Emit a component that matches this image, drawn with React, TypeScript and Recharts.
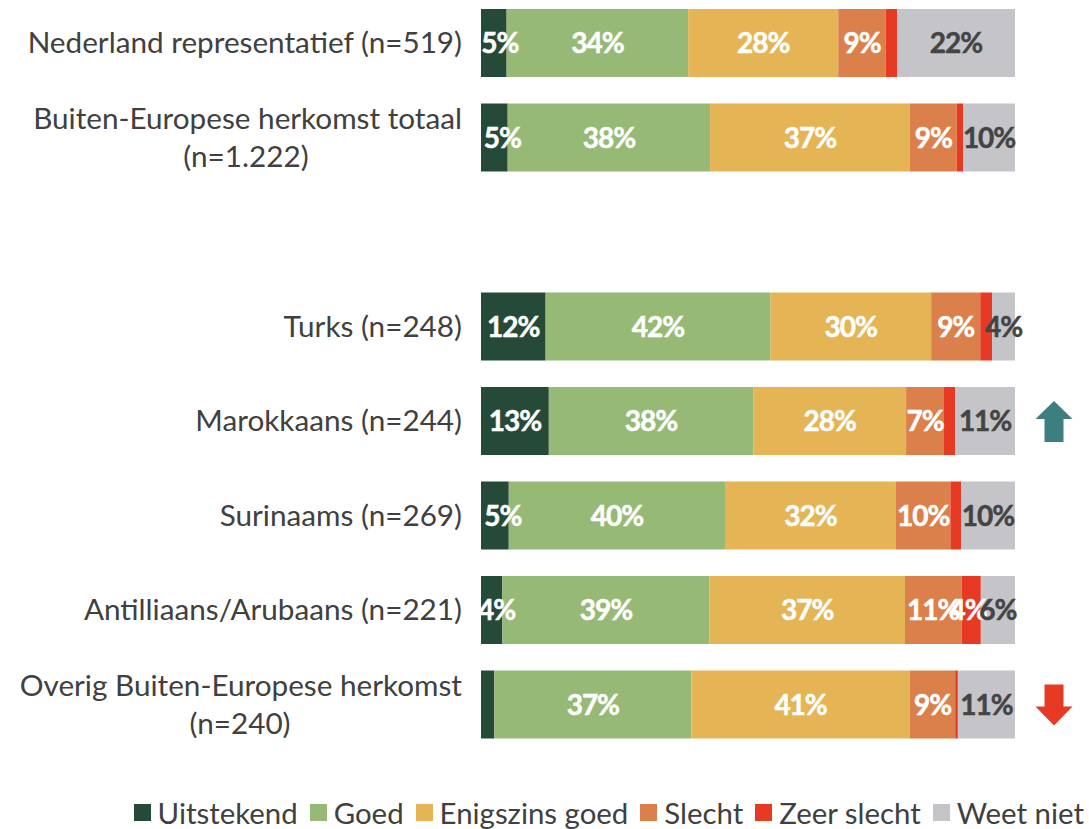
import { BarChart, Bar, XAxis, YAxis, Legend, LabelList } from "recharts";

// empty category makes the gap between the totals and the groups
const categories = [
  "Nederland representatief (n=519)",
  "Buiten-Europese herkomst totaal|(n=1.222)",
  "",
  "Turks (n=248)",
  "Marokkaans (n=244)",
  "Surinaams (n=269)",
  "Antilliaans/Arubaans (n=221)",
  "Overig Buiten-Europese herkomst|(n=240)",
];

const uitstekend = [4.8, 5.0, null, 12.1, 12.7, 5.2, 4.0, 2.5];
const goed = [34.0, 37.9, null, 42.1, 38.3, 40.5, 38.8, 36.9];
const enigszins = [28.1, 37.4, null, 30.1, 28.6, 32.0, 36.6, 40.9];
const slecht = [8.9, 8.8, null, 9.2, 7.1, 10.2, 10.6, 8.5];
const zeerSlecht = [2.1, 1.2, null, 2.2, 2.1, 2.0, 3.6, 0.5];
const weetNiet = [22.1, 9.7, null, 4.3, 11.2, 10.1, 6.4, 10.7];

// printed labels, as they stand in the picture.
// LabelList skips the empty row, so these lists leave it out too
const uitstekendLabels = ["5%", "5%", "12%", "13%", "5%", "4%", ""];
const goedLabels = ["34%", "38%", "42%", "38%", "40%", "39%", "37%"];
const enigszinsLabels = ["28%", "37%", "30%", "28%", "32%", "37%", "41%"];
const slechtLabels = ["9%", "9%", "9%", "7%", "10%", "11%", "9%"];
const zeerSlechtLabels = ["", "", "", "", "", "4%", ""];
const weetNietLabels = ["22%", "10%", "4%", "11%", "10%", "6%", "11%"];

const trends = ["", "", "", "up", "", "", "down"];

const data = categories.map((name, i) => ({
  name,
  uitstekend: uitstekend[i],
  goed: goed[i],
  enigszins: enigszins[i],
  slecht: slecht[i],
  zeerSlecht: zeerSlecht[i],
  weetNiet: weetNiet[i],
}));

const FONT = "Lato, sans-serif";
const TEXT = "#404040";
const AXIS_FONT_SIZE = 29.7;

// the narrow first segments have their label pushed to the right
const uitstekendNudge = [6, 8, 0, 0, 8, 5, 0];
const zeerSlechtNudge = [0, 0, 0, 0, 0, -3, 0];
// distance from the right edge to the centre of a wrapped label
const wrappedCentre: Record<string, number> = {
  "Buiten-Europese herkomst totaal": 216,
  "Overig Buiten-Europese herkomst": 222,
};

function CategoryTick({ x, y, payload }: any) {
  const lines = String(payload.value).split("|");
  const right = Number(x) + 6;
  if (lines.length === 1) {
    return (
      <text x={right} y={y} dy={10} textAnchor="end" fontSize={AXIS_FONT_SIZE} fontFamily={FONT} fill={TEXT}>
        {lines[0]}
      </text>
    );
  }
  return (
    <g>
      <text x={right} y={y} dy={-9} textAnchor="end" fontSize={AXIS_FONT_SIZE} fontFamily={FONT} fill={TEXT}>
        {lines[0]}
      </text>
      <text
        x={right - wrappedCentre[lines[0]]}
        y={y}
        dy={29}
        textAnchor="middle"
        fontSize={AXIS_FONT_SIZE}
        fontFamily={FONT}
        fill={TEXT}
      >
        {lines[1]}
      </text>
    </g>
  );
}

function barLabel(labels: string[], fill: string, nudges?: number[]) {
  return (props: any) => {
    const { x, y, width, height, index } = props;
    const text = labels[index];
    if (!text) return null;
    return (
      <text
        x={Number(x) + Number(width) / 2 + (nudges ? nudges[index] : 0)}
        y={Number(y) + Number(height) / 2}
        dy={10}
        textAnchor="middle"
        fontSize={28}
        fontWeight={700}
        fontFamily={FONT}
        letterSpacing={-1}
        fill={fill}
        stroke={fill}
        strokeWidth={0.5}
      >
        {text}
      </text>
    );
  };
}

function TrendArrow(props: any) {
  const { x, y, width, height, index } = props;
  const trend = trends[index];
  if (!trend) return null;
  const cx = Number(x) + Number(width) + 39;
  const cy = Number(y) + Number(height) / 2;
  const pts =
    trend === "up"
      ? [[0, -20], [18.5, -2], [9.5, -2], [9.5, 21], [-9.5, 21], [-9.5, -2], [-18.5, -2]]
      : [[0, 21], [18.5, 2], [9.5, 2], [9.5, -20], [-9.5, -20], [-9.5, 2], [-18.5, 2]];
  return (
    <polygon
      points={pts.map(([a, b]) => `${cx + a},${cy + b}`).join(" ")}
      fill={trend === "up" ? "#3d7f80" : "#e63a25"}
    />
  );
}

function LegendRow({ payload }: any) {
  return (
    <div style={{ display: "flex", justifyContent: "flex-end", alignItems: "center", gap: 12, fontFamily: FONT, fontSize: 29.4, color: TEXT, whiteSpace: "nowrap" }}>
      {payload.map((item: any) => (
        <span key={item.value} style={{ display: "flex", alignItems: "center", gap: 7 }}>
          <span style={{ width: 17, height: 17, background: item.color, display: "inline-block" }} />
          {item.value}
        </span>
      ))}
    </div>
  );
}

export default function App() {
  return (
    <div style={{ position: "absolute", left: 0, top: -4 }}>
      <BarChart
        width={1089}
        height={833}
        data={data}
        layout="vertical"
        barSize={68}
        margin={{ top: 0, right: 74, bottom: 77, left: 0 }}
      >
        <XAxis type="number" domain={[0, 100]} hide />
        <YAxis
          type="category"
          dataKey="name"
          width={481}
          axisLine={false}
          tickLine={false}
          tickMargin={19}
          interval={0}
          tick={<CategoryTick />}
        />
        <Legend
          verticalAlign="middle"
          layout="horizontal"
          itemSorter={null}
          content={<LegendRow />}
          wrapperStyle={{ top: 799, left: 0, width: 1084 }}
        />
        <Bar dataKey="uitstekend" name="Uitstekend" stackId="a" fill="#264a38" isAnimationActive={false}>
          <LabelList content={barLabel(uitstekendLabels, "#ffffff", uitstekendNudge)} />
        </Bar>
        <Bar dataKey="goed" name="Goed" stackId="a" fill="#96ba76" isAnimationActive={false}>
          <LabelList content={barLabel(goedLabels, "#ffffff")} />
        </Bar>
        <Bar dataKey="enigszins" name="Enigszins goed" stackId="a" fill="#e4b455" isAnimationActive={false}>
          <LabelList content={barLabel(enigszinsLabels, "#ffffff")} />
        </Bar>
        <Bar dataKey="slecht" name="Slecht" stackId="a" fill="#db804b" isAnimationActive={false}>
          <LabelList content={barLabel(slechtLabels, "#ffffff")} />
        </Bar>
        <Bar dataKey="zeerSlecht" name="Zeer slecht" stackId="a" fill="#e63a25" isAnimationActive={false}>
          <LabelList content={barLabel(zeerSlechtLabels, "#ffffff", zeerSlechtNudge)} />
        </Bar>
        <Bar dataKey="weetNiet" name="Weet niet" stackId="a" fill="#c5c4c9" isAnimationActive={false}>
          <LabelList content={barLabel(weetNietLabels, "#444444")} />
          <LabelList content={<TrendArrow />} />
        </Bar>
      </BarChart>
    </div>
  );
}
